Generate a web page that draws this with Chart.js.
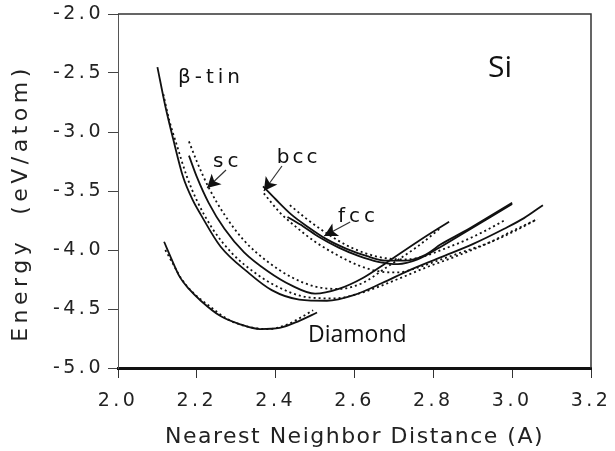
<!DOCTYPE html>
<html>
<head>
<meta charset="utf-8">
<script src="https://cdn.jsdelivr.net/npm/chart.js@4.4.1/dist/chart.umd.min.js"></script>
<style>
  html, body { margin: 0; padding: 0; background: #fff; }
</style>
</head>
<body>
<canvas id="chart" width="615" height="451"></canvas>
<script>
// axis ticks
const xTicks = [2.0, 2.2, 2.4, 2.6, 2.8, 3.0, 3.2];
const yTicks = [-5.0, -4.5, -4.0, -3.5, -3.0, -2.5, -2.0];
const xTitle = 'Nearest Neighbor Distance (A)';
const yTitle = 'Energy  (eV/atom)';

// curves: [distance, energy]
// solid = fit, dotted = reference
const betaTinSolid = [[2.100,-2.45],[2.120,-2.78],[2.140,-3.06],[2.165,-3.38],[2.19,-3.58],[2.21,-3.70],[2.26,-3.97],[2.33,-4.19],[2.39,-4.34],[2.46,-4.42],[2.53,-4.43],[2.60,-4.38],[2.67,-4.28],[2.74,-4.17],[2.82,-4.06],[2.90,-3.95],[2.98,-3.82],[3.03,-3.73],[3.078,-3.62]];
const betaTinDotted = [[2.115,-2.68],[2.13,-2.90],[2.15,-3.12],[2.175,-3.38],[2.20,-3.58],[2.24,-3.82],[2.29,-4.03],[2.35,-4.20],[2.41,-4.32],[2.48,-4.40],[2.55,-4.41],[2.62,-4.36],[2.70,-4.26],[2.78,-4.15],[2.86,-4.05],[2.94,-3.94],[3.00,-3.84],[3.063,-3.74]];
const scSolid = [[2.18,-3.20],[2.20,-3.38],[2.23,-3.60],[2.27,-3.82],[2.32,-4.02],[2.38,-4.18],[2.44,-4.30],[2.50,-4.37],[2.56,-4.33],[2.62,-4.24],[2.68,-4.11],[2.76,-3.93],[2.84,-3.76]];
const scDotted = [[2.18,-3.08],[2.20,-3.25],[2.23,-3.47],[2.27,-3.70],[2.32,-3.92],[2.38,-4.10],[2.44,-4.23],[2.50,-4.31],[2.56,-4.33],[2.62,-4.28],[2.68,-4.15],[2.76,-3.97],[2.82,-3.81]];
const bccSolid = [[2.368,-3.46],[2.40,-3.57],[2.44,-3.70],[2.48,-3.80],[2.53,-3.91],[2.58,-3.99],[2.63,-4.05],[2.68,-4.09],[2.73,-4.09],[2.78,-4.04],[2.82,-3.95],[2.88,-3.84],[2.94,-3.72],[3.00,-3.60]];
const fccSolid = [[2.43,-3.72],[2.47,-3.80],[2.51,-3.89],[2.56,-3.98],[2.61,-4.05],[2.66,-4.10],[2.71,-4.12],[2.76,-4.08],[2.81,-3.99],[2.87,-3.87],[2.94,-3.73],[3.00,-3.61]];
const bccDotted = [[2.37,-3.52],[2.41,-3.68],[2.45,-3.80],[2.50,-3.93],[2.56,-4.05],[2.61,-4.13],[2.66,-4.18],[2.71,-4.19],[2.76,-4.15],[2.82,-4.08],[2.88,-4.01],[2.94,-3.94],[3.00,-3.85],[3.063,-3.74]];
const fccDotted = [[2.436,-3.62],[2.48,-3.74],[2.53,-3.86],[2.58,-3.96],[2.63,-4.03],[2.68,-4.07],[2.73,-4.08],[2.78,-4.05],[2.82,-4.00],[2.88,-3.92],[2.93,-3.84],[2.98,-3.75]];
const diamondSolid = [[2.117,-3.93],[2.135,-4.07],[2.157,-4.23],[2.18,-4.33],[2.21,-4.43],[2.26,-4.56],[2.31,-4.63],[2.36,-4.67],[2.41,-4.66],[2.46,-4.60],[2.505,-4.53]];
const diamondDotted = [[2.12,-4.00],[2.14,-4.12],[2.16,-4.24],[2.19,-4.36],[2.23,-4.47],[2.28,-4.59],[2.33,-4.65],[2.38,-4.67],[2.43,-4.63],[2.47,-4.56],[2.495,-4.51]];

// text labels and arrows, in data units
const labels = [
  {text: 'β-tin', x: 2.152, y: -2.585, font: '20px "DejaVu Sans"', spacing: '4px'},
  {text: 'Si', x: 2.939, y: -2.534, font: '30px "Open Sans"', spacing: '0px'},
  {text: 'sc', x: 2.241, y: -3.297, font: '20px "DejaVu Sans"', spacing: '4px'},
  {text: 'bcc', x: 2.403, y: -3.263, font: '20px "DejaVu Sans"', spacing: '3px'},
  {text: 'fcc', x: 2.558, y: -3.763, font: '20px "DejaVu Sans"', spacing: '4px'},
  {text: 'Diamond', x: 2.482, y: -4.78, font: '23px "Open Sans"', spacing: '0px'}
];
const arrows = [
  {from: [2.274, -3.322], to: [2.226, -3.475]},
  {from: [2.416, -3.288], to: [2.370, -3.500]},
  {from: [2.589, -3.763], to: [2.523, -3.881]}
];

const toPts = arr => arr.map(p => ({x: p[0], y: p[1]}));
const solid = data => ({data: toPts(data), borderColor: '#111', borderWidth: 1.8, showLine: true, pointRadius: 0, cubicInterpolationMode: 'monotone'});
const dotted = data => ({data: toPts(data), borderColor: '#111', borderWidth: 1.8, borderDash: [2, 3], showLine: true, pointRadius: 0, cubicInterpolationMode: 'monotone'});

const TICK_SPACING = '3.5px';
const spacingPlugin = {
  id: 'spacing',
  beforeLayout(chart) { chart.ctx.letterSpacing = TICK_SPACING; },
  beforeDraw(chart) { chart.ctx.letterSpacing = TICK_SPACING; }
};

const framePlugin = {
  id: 'frame',
  afterDraw(chart) {
    const {ctx, chartArea: a, scales} = chart;
    ctx.save();
    ctx.strokeStyle = '#333';
    ctx.lineWidth = 1.5;
    ctx.beginPath();
    ctx.moveTo(a.left, a.top);
    ctx.lineTo(a.right, a.top);
    ctx.lineTo(a.right, a.bottom);
    ctx.stroke();

    // axis titles
    ctx.fillStyle = '#222';
    ctx.textAlign = 'center';
    ctx.textBaseline = 'alphabetic';
    ctx.font = '22px "DejaVu Sans"';
    ctx.letterSpacing = '1.5px';
    ctx.fillText(xTitle, (a.left + a.right) / 2, 443);
    ctx.save();
    ctx.translate(27, 203);
    ctx.rotate(-Math.PI / 2);
    ctx.font = '22px "DejaVu Sans"';
    ctx.letterSpacing = '4.5px';
    ctx.fillText(yTitle, 0, 0);
    ctx.restore();

    ctx.fillStyle = '#111';
    ctx.textAlign = 'left';
    labels.forEach(l => {
      ctx.font = l.font;
      ctx.letterSpacing = l.spacing;
      ctx.fillText(l.text, scales.x.getPixelForValue(l.x), scales.y.getPixelForValue(l.y));
    });

    // arrows with solid heads
    ctx.lineWidth = 1.2;
    arrows.forEach(ar => {
      const x1 = scales.x.getPixelForValue(ar.from[0]), y1 = scales.y.getPixelForValue(ar.from[1]);
      const x2 = scales.x.getPixelForValue(ar.to[0]), y2 = scales.y.getPixelForValue(ar.to[1]);
      const ang = Math.atan2(y2 - y1, x2 - x1);
      ctx.beginPath();
      ctx.moveTo(x1, y1);
      ctx.lineTo(x2, y2);
      ctx.stroke();
      ctx.beginPath();
      ctx.moveTo(x2, y2);
      ctx.lineTo(x2 - 15 * Math.cos(ang - 0.5), y2 - 15 * Math.sin(ang - 0.5));
      ctx.lineTo(x2 - 10 * Math.cos(ang), y2 - 10 * Math.sin(ang));
      ctx.lineTo(x2 - 15 * Math.cos(ang + 0.5), y2 - 15 * Math.sin(ang + 0.5));
      ctx.closePath();
      ctx.fill();
    });
    ctx.restore();
  }
};

new Chart(document.getElementById('chart'), {
  type: 'scatter',
  data: {
    datasets: [
      solid(betaTinSolid), dotted(betaTinDotted),
      solid(scSolid), dotted(scDotted),
      solid(bccSolid), dotted(bccDotted),
      solid(fccSolid), dotted(fccDotted),
      solid(diamondSolid), dotted(diamondDotted)
    ]
  },
  options: {
    responsive: false,
    animation: false,
    layout: {padding: {left: 0, right: 24, top: 14, bottom: 0}},
    plugins: {legend: {display: false}, tooltip: {enabled: false}},
    scales: {
      x: {
        type: 'linear',
        min: xTicks[0],
        max: xTicks[xTicks.length - 1],
        afterBuildTicks: s => { s.ticks = xTicks.map(v => ({value: v})); },
        afterFit: s => { s.height = 83; s.paddingLeft = 0; s.paddingRight = 0; },
        ticks: {
          callback: v => v.toFixed(1),
          color: '#222',
          font: {family: 'DejaVu Sans', size: 19},
          padding: 12
        },
        grid: {drawOnChartArea: false, tickLength: 10, tickColor: '#333', tickWidth: 1},
        border: {display: true, color: '#111', width: 3}
      },
      y: {
        type: 'linear',
        min: yTicks[0],
        max: yTicks[yTicks.length - 1],
        afterBuildTicks: s => { s.ticks = yTicks.map(v => ({value: v})); },
        afterFit: s => { s.width = 118; s.paddingTop = 0; s.paddingBottom = 0; },
        ticks: {
          callback: v => v.toFixed(1),
          color: '#222',
          font: {family: 'DejaVu Sans', size: 19},
          padding: 4
        },
        grid: {drawOnChartArea: false, tickLength: 10, tickColor: '#444', tickWidth: 1},
        border: {display: true, color: '#555', width: 1}
      }
    }
  },
  plugins: [spacingPlugin, framePlugin]
});
</script>
</body>
</html>
